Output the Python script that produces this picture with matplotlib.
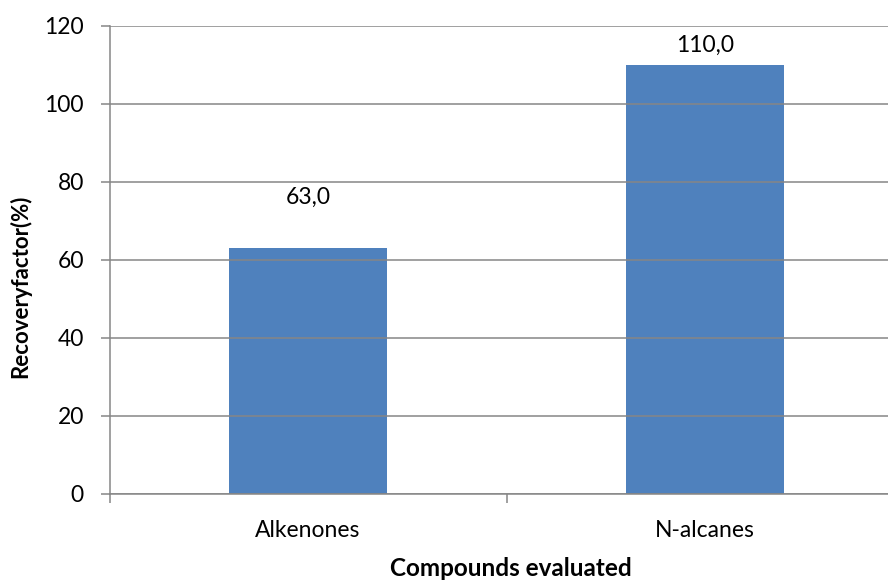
import matplotlib
matplotlib.use("Agg")
import matplotlib.pyplot as plt
from matplotlib.ticker import FixedLocator

# Recovery factors per compound class
categories = ["Alkenones", "N-alcanes"]
recovery = [63.0, 110.0]
y_ticks = [0, 20, 40, 60, 80, 100, 120]

plt.rcParams['font.family'] = ['Lato', 'DejaVu Sans']

GRID = "#868686"
BAR = "#4F81BD"
FS = 16.5

W, H = 888, 580
fig = plt.figure(figsize=(W / 100, H / 100), dpi=100)
left, bottom, top = 109.5, 494, 25.5
ax = fig.add_axes([left / W, (H - bottom) / H, 794 / W, (bottom - top) / H])

x = range(len(categories))
ax.bar(x, recovery, width=0.4, color=BAR, zorder=1)

ax.set_xlim(-0.5, 1.5)
ax.set_ylim(0, 120)
ax.set_yticks(y_ticks)
ax.set_yticklabels([str(v) for v in y_ticks], fontsize=FS)

ax.set_xticks(list(x))
ax.set_xticklabels(categories, fontsize=FS)
ax.tick_params(axis='x', which='major', length=0, pad=19)
ax.xaxis.set_minor_locator(FixedLocator([-0.5, 0.5, 1.5]))
ax.tick_params(axis='x', which='minor', length=6.5, width=1.1, color=GRID, direction='out')
ax.tick_params(axis='y', length=6.5, width=1.1, color=GRID, direction='out', pad=12)

ax.set_axisbelow(False)
ax.yaxis.grid(True, color=GRID, linewidth=1.1)
ax.xaxis.grid(False)

for side in ("top", "right"):
    ax.spines[side].set_visible(False)
for side in ("left", "bottom"):
    ax.spines[side].set_color(GRID)
    ax.spines[side].set_linewidth(1.1)

# Data labels in Excel style (comma decimal)
label_offsets = [13, 5]
for xi, v, off in zip(x, recovery, label_offsets):
    ax.text(xi, v + off, f"{v:.1f}".replace(".", ","), ha="center", va="center",
            fontsize=FS, color="black")

fig.text(20 / W, 1 - 286 / H, "Recoveryfactor(%)", rotation=90, ha="center",
         va="center", fontsize=16, fontweight="bold")
fig.text(511 / W, 1 - 569 / H, "Compounds evaluated", ha="center", va="center",
         fontsize=17.5, fontweight="bold")

fig.savefig("out.png", dpi=100)
